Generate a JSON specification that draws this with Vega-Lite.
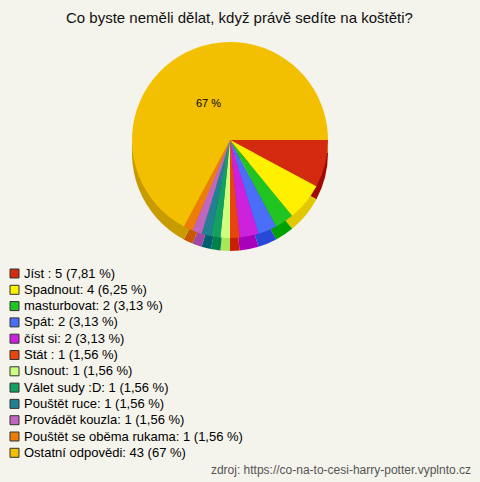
{
  "$schema": "https://vega.github.io/schema/vega-lite/v6.json",
  "autosize": "none",
  "padding": {"left": 0, "top": 0, "right": 480, "bottom": 482},
  "background": "#f4f3ec",
  "title": {
    "text": "Co byste neměli dělat, když právě sedíte na koštěti?",
    "anchor": "start",
    "dx": 66,
    "offset": -38,
    "baseline": "alphabetic",
    "font": "Liberation Sans",
    "fontSize": 15,
    "fontWeight": "normal",
    "color": "#111111"
  },
  "config": {
    "view": {"stroke": null},
    "legend": {
      "orient": "none",
      "legendX": 8,
      "legendY": 267,
      "padding": 0,
      "symbolType": "square",
      "symbolSize": 81,
      "symbolStrokeColor": "#333333",
      "symbolStrokeWidth": 1,
      "symbolOpacity": 1,
      "labelFont": "Liberation Sans",
      "labelFontSize": 13,
      "labelColor": "#000000",
      "labelOffset": 3,
      "labelLimit": 400,
      "rowPadding": 2.3
    }
  },
  "vconcat": [
    {
      "title": {
        "text": "zdroj: https://co-na-to-cesi-harry-potter.vyplnto.cz",
        "orient": "bottom",
        "anchor": "end",
        "dx": 11,
        "offset": 5,
        "font": "Liberation Sans",
        "fontSize": 12,
        "fontWeight": "normal",
        "color": "#555555"
      },
      "width": 460,
      "height": 280,
      "data": {
        "values": [
          {"label": "Jíst : 5 (7,81 %)", "count": 5, "order": 1, "pct": "7,81 %"},
          {"label": "Spadnout: 4 (6,25 %)", "count": 4, "order": 2, "pct": "6,25 %"},
          {"label": "masturbovat: 2 (3,13 %)", "count": 2, "order": 3, "pct": "3,13 %"},
          {"label": "Spát: 2 (3,13 %)", "count": 2, "order": 4, "pct": "3,13 %"},
          {"label": "číst si: 2 (3,13 %)", "count": 2, "order": 5, "pct": "3,13 %"},
          {"label": "Stát : 1 (1,56 %)", "count": 1, "order": 6, "pct": "1,56 %"},
          {"label": "Usnout: 1 (1,56 %)", "count": 1, "order": 7, "pct": "1,56 %"},
          {"label": "Válet sudy :D: 1 (1,56 %)", "count": 1, "order": 8, "pct": "1,56 %"},
          {"label": "Pouštět ruce: 1 (1,56 %)", "count": 1, "order": 9, "pct": "1,56 %"},
          {"label": "Provádět kouzla: 1 (1,56 %)", "count": 1, "order": 10, "pct": "1,56 %"},
          {"label": "Pouštět se oběma rukama: 1 (1,56 %)", "count": 1, "order": 11, "pct": "1,56 %"},
          {"label": "Ostatní odpovědi: 43 (67 %)", "count": 43, "order": 12, "pct": "67 %"}
        ]
      },
      "layer": [
        {
          "mark": {"type": "arc", "radius": 98, "yOffset": 13},
          "encoding": {
            "theta": {"field": "count", "type": "quantitative", "stack": true, "scale": {"range": [1.5708, 7.854]}},
            "order": {"field": "order", "type": "quantitative"},
            "color": {
              "field": "label", "type": "nominal", "legend": null,
              "scale": {
                "domain": ["Jíst : 5 (7,81 %)", "Spadnout: 4 (6,25 %)", "masturbovat: 2 (3,13 %)", "Spát: 2 (3,13 %)", "číst si: 2 (3,13 %)", "Stát : 1 (1,56 %)", "Usnout: 1 (1,56 %)", "Válet sudy :D: 1 (1,56 %)", "Pouštět ruce: 1 (1,56 %)", "Provádět kouzla: 1 (1,56 %)", "Pouštět se oběma rukama: 1 (1,56 %)", "Ostatní odpovědi: 43 (67 %)"],
                "range": ["#a00800", "#e2c800", "#00a000", "#2848d8", "#a800bb", "#c82000", "#a8e858", "#00804a", "#006070", "#a048a8", "#c85800", "#c89c00"]
              }
            }
          }
        },
        {
          "mark": {"type": "arc", "radius": 98},
          "encoding": {
            "theta": {"field": "count", "type": "quantitative", "stack": true, "scale": {"range": [1.5708, 7.854]}},
            "order": {"field": "order", "type": "quantitative"},
            "color": {
              "field": "label", "type": "nominal", "title": null,
              "scale": {
                "domain": ["Jíst : 5 (7,81 %)", "Spadnout: 4 (6,25 %)", "masturbovat: 2 (3,13 %)", "Spát: 2 (3,13 %)", "číst si: 2 (3,13 %)", "Stát : 1 (1,56 %)", "Usnout: 1 (1,56 %)", "Válet sudy :D: 1 (1,56 %)", "Pouštět ruce: 1 (1,56 %)", "Provádět kouzla: 1 (1,56 %)", "Pouštět se oběma rukama: 1 (1,56 %)", "Ostatní odpovědi: 43 (67 %)"],
                "range": ["#d42a10", "#fff000", "#22c422", "#4a6ef8", "#cc22dd", "#e8440e", "#ccff80", "#14a060", "#228090", "#c066c0", "#ee7c0a", "#f2c000"]
              }
            }
          }
        },
        {
          "mark": {"type": "text", "radius": 42, "font": "Liberation Sans", "fontSize": 11, "color": "#000000"},
          "encoding": {
            "theta": {"field": "count", "type": "quantitative", "stack": true, "scale": {"range": [1.5708, 7.854]}},
            "order": {"field": "order", "type": "quantitative"},
            "text": {"condition": {"test": "datum.count > 20", "field": "pct"}, "value": ""}
          }
        }
      ],
      "resolve": {"scale": {"color": "independent"}}
    }
  ]
}
